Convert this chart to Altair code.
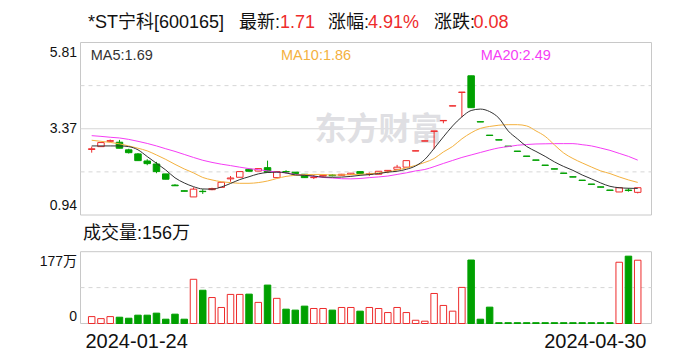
import altair as alt
import pandas as pd

# ---------------- data ----------------
dates = ["2024-01-24", "2024-04-30"]

opens = [2.79, 2.87, 3.02, 2.995, 2.78, 2.665, 2.465, 2.38, 2.10, 1.785,
         1.625, 1.45, 1.61, 1.655, 1.72, 1.96, 2.005, 2.23, 2.18, 2.277,
         1.995, 2.165, 2.15, 2.09, 1.995, 2.04, 2.07, 2.06, 2.08, 2.165,
         2.09, 2.09, 2.18, 2.23, 2.29, 2.745, 3.025, 3.30, 3.60, 4.015,
         4.40, 4.87, 3.575, 3.195, 3.065, 2.885, 2.745, 2.605, 2.495, 2.35,
         2.245, 2.125, 2.02, 1.925, 1.815, 1.735, 1.645, 1.59, 1.645, 1.58]
closes = [2.81, 2.985, 3.04, 2.825, 2.70, 2.475, 2.39, 2.165, 1.95, 1.765,
          1.61, 1.67, 1.60, 1.685, 1.865, 1.985, 2.165, 2.175, 2.25, 2.147,
          2.165, 2.155, 2.11, 1.995, 2.005, 2.06, 2.05, 2.09, 2.12, 2.11,
          2.10, 2.175, 2.20, 2.29, 2.475, 2.755, 3.035, 3.315, 3.61, 4.025,
          4.41, 3.97, 3.565, 3.185, 3.055, 2.875, 2.735, 2.595, 2.485, 2.34,
          2.235, 2.115, 2.01, 1.915, 1.805, 1.725, 1.635, 1.71, 1.63, 1.71]
highs = [2.87, 2.985, 3.07, 3.06, 2.81, 2.69, 2.515, 2.44, 2.10, 1.81,
         1.63, 1.72, 1.67, 1.71, 1.865, 2.04, 2.165, 2.23, 2.25, 2.475,
         2.165, 2.205, 2.15, 2.09, 2.07, 2.08, 2.09, 2.10, 2.12, 2.165,
         2.14, 2.175, 2.20, 2.355, 2.475, 2.755, 3.035, 3.315, 3.61, 4.025,
         4.41, 4.87, 3.575, 3.195, 3.065, 2.885, 2.745, 2.605, 2.495, 2.35,
         2.245, 2.125, 2.02, 1.925, 1.815, 1.735, 1.645, 1.71, 1.695, 1.71]
lows = [2.70, 2.87, 3.00, 2.825, 2.675, 2.475, 2.345, 2.12, 1.95, 1.765,
        1.61, 1.45, 1.535, 1.64, 1.72, 1.88, 2.005, 2.175, 2.18, 2.147,
        1.995, 2.11, 2.11, 1.995, 1.955, 2.02, 2.03, 2.05, 2.08, 2.11,
        2.04, 2.09, 2.12, 2.23, 2.29, 2.745, 3.025, 2.80, 3.53, 4.015,
        3.70, 3.97, 3.565, 3.185, 3.055, 2.875, 2.735, 2.595, 2.485, 2.34,
        2.235, 2.115, 2.01, 1.915, 1.805, 1.725, 1.635, 1.59, 1.60, 1.55]
volumes = [17, 12, 17, 15.5, 13, 20.5, 20.5, 25.5, 10.6, 23,
           10.6, 109, 82, 64, 39.5, 71.7, 71.7, 72.4, 52, 94.7,
           62, 35.3, 33, 42.8, 37, 37, 33, 39.5, 39.5, 30.4,
           39.5, 37, 27, 39.5, 27, 8, 5.7, 74, 44.5, 30.4,
           89, 156.5, 10.6, 40.3, 2, 2, 2, 2, 2, 2,
           2, 2, 2, 2, 2, 2, 2, 151, 166, 156]
ma5 = [2.89, 2.89, 2.89, 2.89, 2.87, 2.78, 2.59, 2.40, 2.21, 1.99,
       1.845, 1.74, 1.675, 1.67, 1.73, 1.83, 1.94, 2.02, 2.10, 2.14,
       2.15, 2.13, 2.07, 2.06, 2.04, 2.01, 2.005, 2.01, 2.03, 2.06,
       2.08, 2.11, 2.15, 2.175, 2.23, 2.325, 2.51, 2.82, 3.145, 3.455,
       3.71, 3.89, 3.93, 3.86, 3.675, 3.315, 3.09, 2.875, 2.735, 2.595,
       2.44, 2.31, 2.20, 2.07, 1.96, 1.845, 1.75, 1.71, 1.695, 1.69]
ma10 = [3.05, 3.02, 2.99, 2.95, 2.89, 2.825, 2.75, 2.635, 2.51, 2.37,
        2.24, 2.13, 2.00, 1.93, 1.88, 1.855, 1.835, 1.835, 1.855, 1.90,
        1.97, 2.03, 2.06, 2.08, 2.085, 2.085, 2.07, 2.07, 2.08, 2.09,
        2.10, 2.13, 2.155, 2.21, 2.27, 2.34, 2.425, 2.535, 2.72, 2.875,
        3.09, 3.26, 3.385, 3.44, 3.475, 3.49, 3.49, 3.455, 3.315, 3.16,
        2.92, 2.69, 2.535, 2.41, 2.295, 2.185, 2.11, 2.015, 1.93, 1.86]
ma20 = [3.18, 3.16, 3.135, 3.115, 3.075, 3.02, 2.96, 2.89, 2.81, 2.735,
        2.65, 2.565, 2.485, 2.425, 2.375, 2.335, 2.29, 2.25, 2.22, 2.185,
        2.15, 2.13, 2.085, 2.07, 2.03, 2.00, 1.985, 1.965, 1.96, 1.97,
        1.995, 2.015, 2.04, 2.085, 2.13, 2.185, 2.225, 2.305, 2.395, 2.48,
        2.565, 2.635, 2.705, 2.775, 2.835, 2.87, 2.91, 2.93, 2.945, 2.95,
        2.955, 2.955, 2.955, 2.925, 2.89, 2.83, 2.765, 2.68, 2.595, 2.49]

price_domain = [0.94, 5.81]
price_ticks = [0.94, 3.37, 5.81]
price_grid_dashed = [4.5925, 2.1575]
price_grid_solid = [3.375]
vol_domain = [0, 177]
vol_ticks = [0, 177]
vol_grid = [88.5]

stock_name = "*ST宁科[600165]"
change = closes[-1] - closes[-2]
pct = change / closes[-2] * 100

# ---------------- layout / style ----------------
W = 571
H = 281
P_BOTTOM = 172.5      # price panel bottom (plot coords)
V_TOP = 209.2         # volume panel top
X_DOMAIN = [-0.67, 59.95]
RED = "#ee2b2b"
GREEN = "#00a000"
FRAME = "#c8c8c8"
GRID = "#d6d6d6"
FONT = "Liberation Sans, Noto Sans CJK SC"
INK = "#111111"

n = len(opens)
idx = list(range(n))
df = pd.DataFrame({"i": idx, "open": opens, "close": closes,
                   "high": highs, "low": lows, "vol": volumes})
df["dir"] = ["up" if c >= o else "down" for o, c in zip(opens, closes)]

x_scale = alt.Scale(domain=X_DOMAIN, nice=False, zero=False)
price_scale = alt.Scale(domain=price_domain, range=[P_BOTTOM, 0], nice=False, zero=False)
vol_scale = alt.Scale(domain=vol_domain, range=[H, V_TOP], nice=False, zero=False)
fill_scale = alt.Scale(domain=["up", "down"], range=["#ffffff", GREEN])
stroke_scale = alt.Scale(domain=["up", "down"], range=[RED, GREEN])


def X(field="i:Q"):
    return alt.X(field, scale=x_scale, axis=None)


one = alt.Data(values=[{}])

# ---------------- price panel ----------------
frame_p = alt.Chart(one).mark_rect(fill="transparent", stroke=FRAME, strokeWidth=1).encode(
    x=alt.value(0), x2=alt.value(W), y=alt.value(0), y2=alt.value(P_BOTTOM))

grid_pd = alt.Chart(pd.DataFrame({"g": price_grid_dashed})).mark_rule(
    stroke=GRID, strokeDash=[4, 4], strokeWidth=1).encode(
    y=alt.Y("g:Q", scale=price_scale, axis=None), x=alt.value(0), x2=alt.value(W))
grid_ps = alt.Chart(pd.DataFrame({"g": price_grid_solid})).mark_rule(
    stroke=GRID, strokeWidth=1).encode(
    y=alt.Y("g:Q", scale=price_scale, axis=None), x=alt.value(0), x2=alt.value(W))

watermark = alt.Chart(one).mark_text(
    text="东方财富", font="Noto Sans CJK SC", fontSize=32, fontWeight="bold",
    color="#dfdfe3", align="center", baseline="middle").encode(
    x=alt.value(298), y=alt.value(87))

wicks = alt.Chart(df).mark_rule(strokeWidth=1).encode(
    x=X(),
    y=alt.Y("low:Q", scale=price_scale, axis=None),
    y2="high:Q",
    color=alt.Color("dir:N", scale=stroke_scale, legend=None))

bodies = alt.Chart(df).mark_bar(width=6.5, strokeWidth=1).encode(
    x=X(),
    y=alt.Y("open:Q", scale=price_scale, axis=None),
    y2="close:Q",
    fill=alt.Fill("dir:N", scale=fill_scale, legend=None),
    stroke=alt.Stroke("dir:N", scale=stroke_scale, legend=None))


def ma_line(values, color):
    return alt.Chart(pd.DataFrame({"i": idx, "v": values})).mark_line(
        interpolate="monotone", strokeWidth=1, color=color).encode(
        x=X(), y=alt.Y("v:Q", scale=price_scale, axis=None))


def tick_label(value, text, scale, dy):
    return alt.Chart(alt.Data(values=[{"v": value, "t": text}])).mark_text(
        align="right", baseline="middle", font=FONT, fontSize=14, color=INK, dx=-3.5, dy=dy).encode(
        x=alt.value(0), y=alt.Y("v:Q", scale=scale, axis=None), text="t:N")


price_label_dy = [-9.5, 0, 10]
price_labels = [tick_label(v, f"{v:.2f}", price_scale, d) for v, d in zip(price_ticks, price_label_dy)]

MA5_C, MA10_C, MA20_C = "#333333", "#f4b13e", "#f53df5"
price_group = alt.layer(frame_p, grid_pd, grid_ps, watermark, wicks, bodies,
                        ma_line(ma20, MA20_C), ma_line(ma10, MA10_C), ma_line(ma5, MA5_C),
                        *price_labels)

# ---------------- volume panel ----------------
frame_v = alt.Chart(one).mark_rect(fill="transparent", stroke=FRAME, strokeWidth=1).encode(
    x=alt.value(0), x2=alt.value(W), y=alt.value(V_TOP), y2=alt.value(H))
grid_v = alt.Chart(pd.DataFrame({"g": vol_grid})).mark_rule(
    stroke=GRID, strokeDash=[4, 4], strokeWidth=1).encode(
    y=alt.Y("g:Q", scale=vol_scale, axis=None), x=alt.value(0), x2=alt.value(W))

vol_bars = alt.Chart(df).mark_bar(width=6.5, strokeWidth=1).encode(
    x=X(),
    y=alt.Y("vol:Q", scale=vol_scale, axis=None),
    fill=alt.Fill("dir:N", scale=fill_scale, legend=None),
    stroke=alt.Stroke("dir:N", scale=stroke_scale, legend=None))

vol_label_dy = [-6.8, 10]
vol_labels = [tick_label(v, "0" if v == 0 else f"{v}万", vol_scale, d)
              for v, d in zip(vol_ticks, vol_label_dy)]

vol_group = alt.layer(frame_v, grid_v, vol_bars, *vol_labels)

# ---------------- date labels (first / last session) ----------------
date_layers = []
for pos, text, align in [(X_DOMAIN[0], dates[0], "left"), (X_DOMAIN[1], dates[-1], "right")]:
    date_layers.append(
        alt.Chart(alt.Data(values=[{"i": pos, "t": text}])).mark_text(
            align=align, baseline="middle", font="Liberation Sans", fontSize=20, color=INK).encode(
            x=X(), y=alt.value(H + 18.2), text="t:N"))

# ---------------- texts ----------------
title_parts = [stock_name, "最新:", f"{closes[-1]:.2f}", "涨幅:", f"{pct:.2f}%", "涨跌:", f"{change:.2f}"]
title_colors = [INK, INK, RED, INK, RED, INK, RED]
title_x = [7.5, 158.5, 199.5, 247.5, 287.5, 353.5, 393]


def label(text, x, y, color, size):
    return alt.Chart(alt.Data(values=[{"t": text}])).mark_text(
        align="left", baseline="middle", font=FONT, fontSize=size, color=color).encode(
        x=alt.value(x), y=alt.value(y), text="t:N")


texts = [label(t, x, -19.8, c, 18) for t, x, c in zip(title_parts, title_x, title_colors)]
texts += [label(f"MA5:{ma5[-1]:.2f}", 10.2, 13.5, MA5_C, 14.5),
          label(f"MA10:{ma10[-1]:.2f}", 200.5, 13.5, MA10_C, 14.5),
          label(f"MA20:{ma20[-1]:.2f}", 400.2, 13.5, MA20_C, 14.5),
          label(f"成交量:{volumes[-1]:g}万", 2.5, 191.5, INK, 18)]

chart = alt.layer(price_group, vol_group, *date_layers, *texts).resolve_scale(y="independent").properties(
    width=W, height=H,
    padding={"left": 72.5, "top": 34.5, "right": 20, "bottom": 30},
    autosize=alt.AutoSizeParams(type="none"),
).configure_view(strokeWidth=0)

chart.save("out.html", embed_options={"renderer": "svg", "actions": False})
